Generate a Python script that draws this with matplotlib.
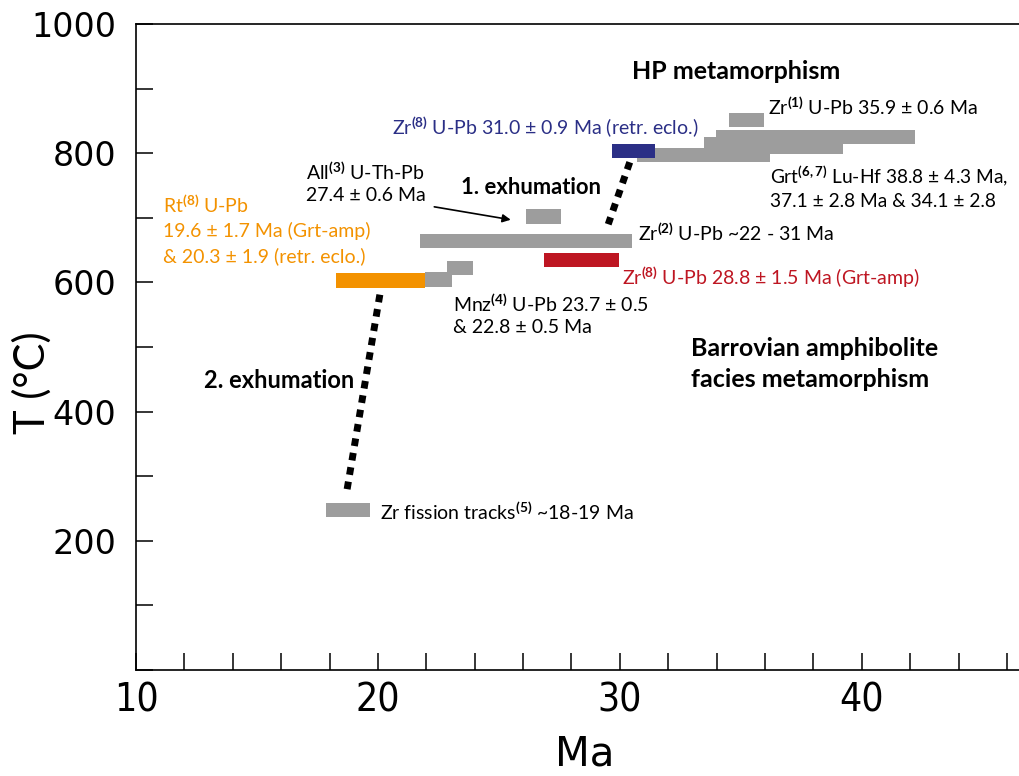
import matplotlib
matplotlib.use("Agg")
import matplotlib.pyplot as plt
from matplotlib.ticker import MultipleLocator

plt.rcParams['font.family'] = ['Lato', 'DejaVu Sans']
plt.rcParams['mathtext.fontset'] = 'custom'
plt.rcParams['mathtext.rm'] = 'Lato'
plt.rcParams['mathtext.bf'] = 'Lato:bold'
plt.rcParams['mathtext.it'] = 'Lato:italic'

# --- age ranges (Ma) and temperature windows (degC) of the dated minerals
grey_age_min = [34.53, 33.97, 33.48, 30.69, 21.76, 26.14, 21.93, 22.84, 17.85]
grey_age_max = [35.94, 42.19, 39.23, 36.20, 30.52, 27.56, 23.05, 23.94, 19.67]
grey_t_min = [841, 815, 798, 787, 653, 690, 593, 611, 237]
grey_t_max = [863, 836, 825, 808, 675, 713, 616, 633, 259]

# coloured bars: retr. eclogite Zr, Grt-amp Zr, rutile
col_age_min = [29.66, 26.87, 18.26]
col_age_max = [31.45, 29.97, 21.94]
col_t_min = [793, 624, 592]
col_t_max = [815, 646, 615]
col_colors = ['#2B2F86', '#BE1622', '#F39200']

# exhumation paths (age, T)
exh1_age = [30.41, 29.52]
exh1_t = [786, 690]
exh2_age = [20.08, 18.71]
exh2_t = [581, 276]

# rutile label, one line per row
rt_lines = ['Rt$^{\\mathbf{(8)}}$ U-Pb', '19.6 ± 1.7 Ma (Grt-amp)', '& 20.3 ± 1.9 (retr. eclo.)']
rt_line_t = [720, 680, 641]

fig = plt.figure(figsize=(10.19, 7.76), dpi=100)
ax = fig.add_axes([136/1019, 106/776, 883/1019, 646/776])

grey = '#9D9D9D'
for a0, a1, t0, t1 in zip(grey_age_min, grey_age_max, grey_t_min, grey_t_max):
    ax.bar(a0, t1 - t0, width=a1 - a0, bottom=t0, align='edge', color=grey, lw=0)
for a0, a1, t0, t1, c in zip(col_age_min, col_age_max, col_t_min, col_t_max, col_colors):
    ax.bar(a0, t1 - t0, width=a1 - a0, bottom=t0, align='edge', color=c, lw=0)

ax.plot(exh1_age, exh1_t, color='k', lw=5, dashes=(1.1, 1.0))
ax.plot(exh2_age, exh2_t, color='k', lw=5, dashes=(1.1, 1.0))

# arrow to the allanite bar
ax.annotate('', xy=(25.49, 697), xytext=(22.33, 717),
            arrowprops=dict(arrowstyle='-|>', lw=1.2, color='k', mutation_scale=12,
                            shrinkA=0, shrinkB=0))

fs = 14
ls = 1.3
ax.text(30.5, 927, 'HP metamorphism', fontsize=18, fontweight='bold', va='center')
ax.text(36.12, 871, r'Zr$^{\mathbf{(1)}}$ U-Pb 35.9 ± 0.6 Ma', fontsize=fs, va='center')
ax.text(20.58, 842, r'Zr$^{\mathbf{(8)}}$ U-Pb 31.0 ± 0.9 Ma (retr. eclo.)', fontsize=fs,
        va='center', color='#2B2F86')
ax.text(17.02, 755, 'All$^{\\mathbf{(3)}}$ U-Th-Pb\n27.4 ± 0.6 Ma', fontsize=fs,
        va='center', linespacing=ls)
ax.text(23.45, 747, '1. exhumation', fontsize=15.8, fontweight='bold', va='center')
ax.text(36.2, 748, 'Grt$^{\\mathbf{(6,7)}}$ Lu-Hf 38.8 ± 4.3 Ma,\n37.1 ± 2.8 Ma & 34.1 ± 2.8',
        fontsize=13.8, va='center', linespacing=ls)
for txt, t in zip(rt_lines, rt_line_t):
    ax.text(11.12, t, txt, fontsize=fs, va='center', color='#F39200')
ax.text(30.74, 676, r'Zr$^{\mathbf{(2)}}$ U-Pb ~22 - 31 Ma', fontsize=fs, va='center')
ax.text(30.08, 608, r'Zr$^{\mathbf{(8)}}$ U-Pb 28.8 ± 1.5 Ma (Grt-amp)', fontsize=fs,
        va='center', color='#BE1622')
ax.text(23.1, 551, 'Mnz$^{\\mathbf{(4)}}$ U-Pb 23.7 ± 0.5\n& 22.8 ± 0.5 Ma', fontsize=fs,
        va='center', linespacing=ls)
ax.text(32.93, 474, 'Barrovian amphibolite\nfacies metamorphism', fontsize=18,
        fontweight='bold', va='center', linespacing=1.4)
ax.text(12.81, 448, '2. exhumation', fontsize=17, fontweight='bold', va='center')
ax.text(20.08, 245, r'Zr fission tracks$^{\mathbf{(5)}}$ ~18-19 Ma', fontsize=fs, va='center')

# axes
ax.set_xlim(10, 46.5)
ax.set_ylim(0, 1000)
ax.spines['right'].set_visible(False)
for s in ['top', 'left', 'bottom']:
    ax.spines[s].set_linewidth(1.2)
ax.xaxis.set_minor_locator(MultipleLocator(2))
ax.yaxis.set_minor_locator(MultipleLocator(100))
ax.tick_params(which='both', direction='in', length=12, width=1.1, top=False, right=False)
ax.tick_params(axis='y', pad=14)
ax.tick_params(axis='x', pad=8)
ax.set_yticks([200, 400, 600, 800, 1000])
ax.set_yticklabels(['200', '400', '600', '800', '1000'], fontfamily='DejaVu Sans', fontsize=24)
ax.set_xticks([10, 20, 30, 40])
ax.set_xticklabels(['10', '20', '30', '40'], fontfamily='DejaVu Sans', fontstretch='condensed',
                   fontsize=28)

fig.text(585/1019, 1 - 754/776, 'Ma', fontsize=29, fontfamily='DejaVu Sans',
         ha='center', va='center')
fig.text(32/1019, 1 - 383/776, 'T (°C)', fontsize=30, rotation=90, ha='center', va='center')

fig.savefig('out.png', dpi=100)
